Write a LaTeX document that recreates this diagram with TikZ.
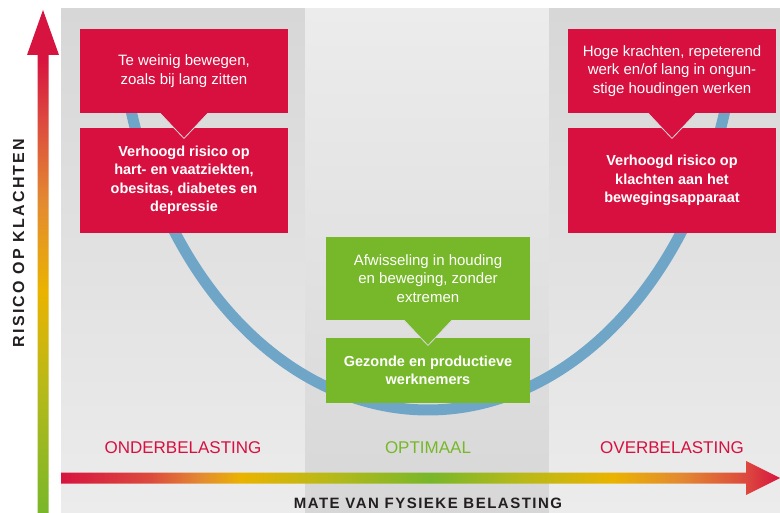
\documentclass[tikz,border=0pt]{standalone}
\usepackage{fontspec}
\setmainfont{Liberation Sans}
\usetikzlibrary{calc,positioning}
\usepackage{xcolor}

\definecolor{riskred}{HTML}{D7103F}
\definecolor{okgreen}{HTML}{77B82A}
\definecolor{curveblue}{HTML}{6FA6C8}
\definecolor{panellight}{HTML}{EDECED}
\definecolor{paneldark}{HTML}{D8D7D7}
\definecolor{labelblack}{HTML}{231F20}
\definecolor{gradred}{HTML}{D7143F}
\definecolor{gradredorange}{HTML}{DC4A3E}
\definecolor{gradorange}{HTML}{E38A31}
\definecolor{gradyellow}{HTML}{EAB300}
\definecolor{gradlime}{HTML}{B7B919}
\definecolor{gradgreen}{HTML}{78B72A}

\pgfdeclareverticalshading{riskaxis}{100bp}{color(0bp)=(gradgreen); color(25bp)=(gradgreen);
  color(37.5bp)=(gradlime); color(47bp)=(gradyellow); color(56bp)=(gradorange);
  color(64bp)=(gradredorange); color(70bp)=(gradred); color(100bp)=(gradred)}
\pgfdeclarehorizontalshading{loadaxis}{100bp}{color(0bp)=(gradred); color(25bp)=(gradred);
  color(31.2bp)=(gradredorange); color(34.7bp)=(gradorange); color(37.5bp)=(gradyellow);
  color(43.7bp)=(gradlime); color(50.7bp)=(gradgreen); color(56.9bp)=(gradlime);
  color(63.4bp)=(gradyellow); color(68bp)=(gradorange); color(72.6bp)=(gradredorange);
  color(75bp)=(gradred); color(100bp)=(gradred)}

\tikzset{
  infobox/.style={rectangle, text=white, inner sep=0pt, align=center,
    font=\fontsize{15}{18.5}\selectfont},
  effectbox/.style={infobox, font=\bfseries\fontsize{14.5}{18.5}\selectfont},
  loadlabel/.style={inner sep=0pt, font=\fontsize{17}{20}\selectfont},
  axislabel/.style={inner sep=0pt, text=labelblack,
    font=\bfseries\fontsize{15}{18}\selectfont\addfontfeatures{LetterSpace=10}},
}

\begin{document}
\begin{tikzpicture}[x=1pt, y=-1pt, thick]
      % frame
      \useasboundingbox (0,0) rectangle (780,513);
      \coordinate (panel_left) at (61,9);
      \coordinate (panel_mid) at (305,9);
      \coordinate (panel_right) at (549,9);
      \coordinate (panel_end) at (780,513);

      % columns
      \shade [top color=paneldark, bottom color=panellight] (panel_left) rectangle (305,513);
      \shade [top color=panellight, bottom color=paneldark] (panel_mid) rectangle (549,513);
      \shade [top color=paneldark, bottom color=panellight] (panel_right) rectangle (panel_end);

      % curve
      \draw [curveblue, line width=11pt] plot [domain=10:170, samples=80, smooth]
      ({428+310*cos(\x)}, {-10+420*sin(\x)});

      % boxes
      \node [infobox, fill=riskred, minimum width=208pt, minimum height=84pt, name=sit_cause] at
      (184,71) {Te weinig bewegen,\\zoals bij lang zitten};
      \node [effectbox, fill=riskred, minimum width=208pt, minimum height=105pt, name=sit_risk,
      below=14pt of sit_cause] {Verhoogd risico op\\hart- en vaatziekten,\\obesitas, diabetes en\\depressie};

      \node [infobox, fill=riskred, minimum width=208pt, minimum height=84pt, name=load_cause] at
      (672,71) {Hoge krachten, repeterend\\werk en/of lang in ongun-\\stige houdingen werken};
      \node [effectbox, fill=riskred, minimum width=208pt, minimum height=105pt, name=load_risk,
      below=14pt of load_cause] {Verhoogd risico op\\klachten aan het\\bewegingsapparaat};

      \node [infobox, fill=okgreen, minimum width=204pt, minimum height=83pt, name=mix_cause] at
      (428,278.5) {Afwisseling in houding\\en beweging, zonder\\extremen};
      \node [effectbox, fill=okgreen, minimum width=204pt, minimum height=65pt, name=mix_effect,
      below=17pt of mix_cause] {Gezonde en productieve\\werknemers};

      % pointers
      \foreach \cause/\col in {sit_cause/riskred, load_cause/riskred, mix_cause/okgreen} {
        \fill [\col] ($(\cause.south) + (-24,-1)$) -- ($(\cause.south) + (0,25)$)
        -- ($(\cause.south) + (24,-1)$) -- cycle;
        \draw [white!70!gray, line width=0.8pt] ($(\cause.south) + (-24,0)$)
        -- ($(\cause.south) + (0,25)$) -- ($(\cause.south) + (24,0)$);
      }

      % axes
      \shade [shading=riskaxis] (37.5,513) -- (37.5,55) -- (27,55) -- (43,10) -- (59,55)
      -- (48.5,55) -- (48.5,513) -- cycle;
      \shade [shading=loadaxis] (61,472.5) -- (746,472.5) -- (746,461) -- (780,478)
      -- (746,495) -- (746,483.5) -- (61,483.5) -- cycle;

      % labels
      \node [loadlabel, text=riskred, name=under_load] at (183,448) {ONDERBELASTING};
      \node [loadlabel, text=okgreen, name=optimal_load] at (428,448) {OPTIMAAL};
      \node [loadlabel, text=riskred, name=over_load] at (672,448) {OVERBELASTING};
      \node [axislabel, name=load_axis] at (428,503) {MATE VAN FYSIEKE BELASTING};
      \node [axislabel, rotate=90, name=risk_axis, font=\bfseries\fontsize{16}{18}\selectfont\addfontfeatures{LetterSpace=14}]
      at (18.5,243) {RISICO OP KLACHTEN};
    \end{tikzpicture}
\end{document}
